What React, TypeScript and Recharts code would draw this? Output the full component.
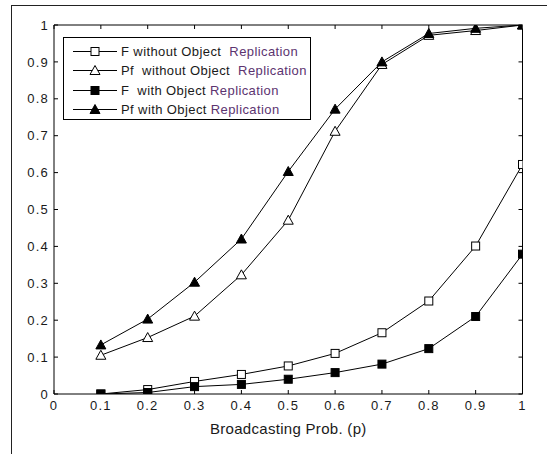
import React from "react";
import { LineChart, Line, XAxis, YAxis, Legend } from "recharts";

// broadcasting probability p
const probs = [0.1, 0.2, 0.3, 0.4, 0.5, 0.6, 0.7, 0.8, 0.9, 1.0];

const fWithout = [0, 0.012, 0.034, 0.053, 0.076, 0.11, 0.166, 0.252, 0.401, 0.622];
const pfWithout = [0.105, 0.153, 0.211, 0.323, 0.471, 0.712, 0.893, 0.972, 0.985, 1.0];
const fWith = [0, 0.004, 0.02, 0.026, 0.04, 0.058, 0.081, 0.123, 0.21, 0.379];
const pfWith = [0.133, 0.203, 0.303, 0.42, 0.603, 0.772, 0.9, 0.977, 0.991, 1.0];

const xTicks = [0, 0.1, 0.2, 0.3, 0.4, 0.5, 0.6, 0.7, 0.8, 0.9, 1];
const yTicks = [0, 0.1, 0.2, 0.3, 0.4, 0.5, 0.6, 0.7, 0.8, 0.9, 1];

const data = probs.map((p, i) => ({
  p,
  fWithout: fWithout[i],
  pfWithout: pfWithout[i],
  fWith: fWith[i],
  pfWith: pfWith[i],
}));

type Shape = "square" | "triangle";

const series: { key: string; head: string; shape: Shape; filled: boolean }[] = [
  { key: "fWithout", head: "F without Object\u00a0 ", shape: "square", filled: false },
  { key: "pfWithout", head: "Pf\u00a0 without Object\u00a0 ", shape: "triangle", filled: false },
  { key: "fWith", head: "F\u00a0 with Object ", shape: "square", filled: true },
  { key: "pfWith", head: "Pf with Object ", shape: "triangle", filled: true },
];

const FONT = "Arial, 'Liberation Sans', sans-serif";
const INK = "#1a1a1a";
const PURPLE = "#5c3470";

function Marker({ cx, cy, shape, filled }: { cx: number; cy: number; shape: Shape; filled: boolean }) {
  const fill = filled ? "#000" : "#fff";
  if (shape === "square") {
    return <rect x={cx - 4} y={cy - 4} width={8} height={8} fill={fill} stroke="#000" strokeWidth={1} />;
  }
  return (
    <polygon
      points={`${cx},${cy - 5} ${cx - 5},${cy + 4} ${cx + 5},${cy + 4}`}
      fill={fill}
      stroke="#000"
      strokeWidth={1}
    />
  );
}

function dotFor(shape: Shape, filled: boolean) {
  return (props: any) => (
    <Marker key={`${shape}-${filled}-${props.index}`} cx={props.cx} cy={props.cy} shape={shape} filled={filled} />
  );
}

function LegendBox() {
  return (
    <div
      style={{
        width: 248,
        height: 83,
        border: "1px solid #000",
        background: "#fff",
        fontFamily: FONT,
        fontSize: 13,
        letterSpacing: 0.4,
        paddingTop: 4,
        boxSizing: "border-box",
      }}
    >
      {series.map((s) => (
        <div key={s.key} style={{ display: "flex", alignItems: "center", height: 19.3 }}>
          <svg width={57} height={19} style={{ flexShrink: 0 }}>
            <line x1={9} y1={9.5} x2={53} y2={9.5} stroke="#000" strokeWidth={1} />
            <Marker cx={31} cy={9.5} shape={s.shape} filled={s.filled} />
          </svg>
          <span style={{ color: INK, whiteSpace: "pre" }}>
            {s.head}
            <span style={{ color: PURPLE }}>Replication</span>
          </span>
        </div>
      ))}
    </div>
  );
}

const tickStyle = { fontSize: 13, fill: INK, fontFamily: FONT, letterSpacing: 1.2 };
const noLabel = () => <g />;

export default function App() {
  return (
    <div
      style={{
        position: "absolute",
        left: 0,
        top: 0,
        width: 547,
        height: 454,
        background: "#fff",
        overflow: "hidden",
      }}
    >
      <div
        style={{
          position: "absolute",
          left: 11,
          top: 5,
          width: 600,
          height: 500,
          border: "1px solid #222",
        }}
      />
      <LineChart
        width={547}
        height={454}
        data={data}
        margin={{ top: 20, right: 19.5, bottom: 30, left: 14 }}
        style={{ position: "absolute", left: 0, top: 0 }}
      >
        <XAxis
          xAxisId="b"
          dataKey="p"
          type="number"
          domain={[0, 1]}
          allowDataOverflow
          ticks={xTicks}
          interval={0}
          height={30}
          tickSize={-4}
          tickMargin={11}
          axisLine={{ stroke: "#000" }}
          tickLine={{ stroke: "#000" }}
          tick={tickStyle}
          label={{
            value: "Broadcasting Prob. (p)",
            position: "insideBottom",
            offset: -10,
            style: { fontSize: 15, fill: INK, fontFamily: FONT, letterSpacing: 0.3 },
          }}
        />
        <XAxis
          xAxisId="t"
          orientation="top"
          dataKey="p"
          type="number"
          domain={[0, 1]}
          allowDataOverflow
          ticks={xTicks}
          interval={0}
          height={5}
          tickSize={-4}
          axisLine={{ stroke: "#000" }}
          tickLine={{ stroke: "#000" }}
          tick={noLabel}
        />
        <YAxis
          yAxisId="l"
          type="number"
          domain={[0, 1]}
          allowDataOverflow
          ticks={yTicks}
          interval={0}
          width={40}
          tickSize={-4}
          tickMargin={9}
          axisLine={{ stroke: "#000" }}
          tickLine={{ stroke: "#000" }}
          tick={tickStyle}
        />
        <YAxis
          yAxisId="r"
          orientation="right"
          type="number"
          domain={[0, 1]}
          allowDataOverflow
          ticks={yTicks}
          interval={0}
          width={5}
          tickSize={-4}
          axisLine={{ stroke: "#000" }}
          tickLine={{ stroke: "#000" }}
          tick={noLabel}
        />
        <Legend
          layout="horizontal"
          verticalAlign="middle"
          align="center"
          content={() => <LegendBox />}
          wrapperStyle={{ position: "absolute", left: 63, top: 37, width: "auto", height: "auto" }}
        />
        {series.map((s) => (
          <Line
            key={s.key}
            xAxisId="b"
            yAxisId="l"
            dataKey={s.key}
            stroke="#000"
            strokeWidth={1}
            dot={dotFor(s.shape, s.filled)}
            activeDot={false}
            isAnimationActive={false}
          />
        ))}
      </LineChart>
    </div>
  );
}
